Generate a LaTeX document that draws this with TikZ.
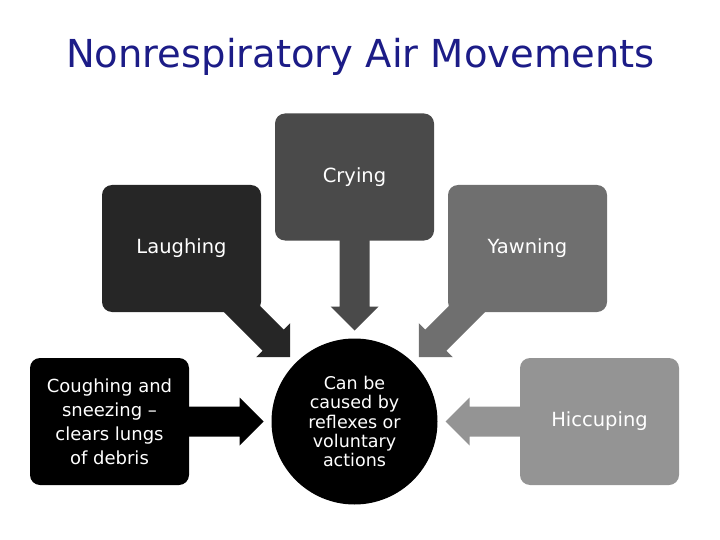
\documentclass[tikz,border=0pt]{standalone}
\usepackage{fontspec}
\setmainfont{DejaVu Sans}
\usetikzlibrary{calc,backgrounds}
\definecolor{titleblue}{RGB}{28,28,135}
\definecolor{cLau}{RGB}{38,38,38}
\definecolor{cCry}{RGB}{74,74,74}
\definecolor{cYaw}{RGB}{111,111,111}
\definecolor{cHic}{RGB}{148,148,148}
% #1 source node, #2 target node, #3 colour
\newcommand\blockarr[3]{%
  \coordinate (tip) at ($(#2.center)!91pt!(#1.center)$);
  \coordinate (bse) at ($(tip)!24pt!(#1.center)$);
  \fill[#3] ($(#1.center)!15pt!90:(tip)$) -- ($(bse)!15pt!90:(tip)$)
    -- ($(bse)!24pt!90:(tip)$) -- (tip) -- ($(bse)!24pt!-90:(tip)$)
    -- ($(bse)!15pt!-90:(tip)$) -- ($(#1.center)!15pt!-90:(tip)$) -- cycle;
}
\tikzset{
  box/.style={rectangle, rounded corners=10pt, minimum width=159pt,
    minimum height=127pt, inner sep=0pt, text=white, align=center,
    font=\fontsize{19.5}{23}\selectfont},
  hub/.style={circle, fill=black, minimum size=166pt, inner sep=0pt,
    text=white, align=center, font=\fontsize{17.5}{19.3}\selectfont},
}
\begin{document}
\begin{tikzpicture}[x=1pt,y=-1pt]
\useasboundingbox (0,0) rectangle (720,540);
% title
\node[anchor=base, text=titleblue, font=\fontsize{38.5}{40}\selectfont] (title) at (360.5,68) {Nonrespiratory Air Movements};
% boxes
\node[box, fill=cLau] (lau) at (181.5,248.5) {Laughing};
\node[box, fill=cCry] (cry) at (354.5,177) {Crying};
\node[box, fill=cYaw] (yaw) at (527.5,248.5) {Yawning};
\node[box, fill=black, font=\fontsize{18}{24}\selectfont] (cou) at (109.5,421.5) {Coughing and\\sneezing –\\clears lungs\\of debris};
\node[box, fill=cHic] (hic) at (599.5,421.5) {Hiccuping};
\node[hub] (ctr) at (354.5,421.5) {Can be\\caused by\\reflexes or\\voluntary\\actions};
% arrows
\begin{scope}[on background layer]
  \blockarr{lau}{ctr}{cLau}
  \blockarr{cry}{ctr}{cCry}
  \blockarr{yaw}{ctr}{cYaw}
  \blockarr{cou}{ctr}{black}
  \blockarr{hic}{ctr}{cHic}
\end{scope}
\end{tikzpicture}
\end{document}
